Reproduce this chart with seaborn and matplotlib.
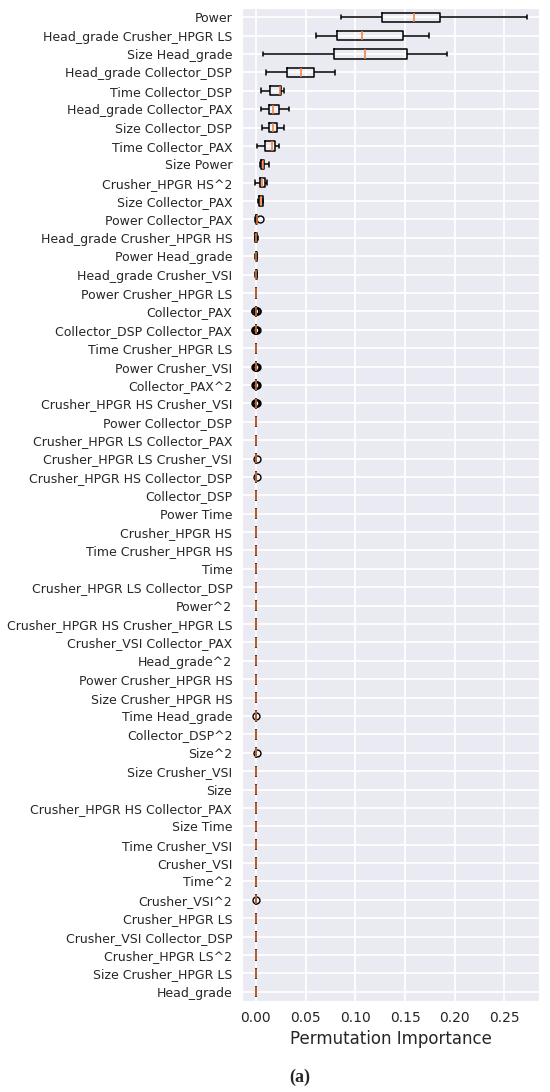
import pandas as pd
import matplotlib
matplotlib.use("Agg")
import matplotlib.pyplot as plt
import seaborn as sns

features = [
    "Power", "Head_grade Crusher_HPGR LS", "Size Head_grade", "Head_grade Collector_DSP",
    "Time Collector_DSP", "Head_grade Collector_PAX", "Size Collector_DSP", "Time Collector_PAX",
    "Size Power", "Crusher_HPGR HS^2", "Size Collector_PAX", "Power Collector_PAX",
    "Head_grade Crusher_HPGR HS", "Power Head_grade", "Head_grade Crusher_VSI",
    "Power Crusher_HPGR LS", "Collector_PAX", "Collector_DSP Collector_PAX",
    "Time Crusher_HPGR LS", "Power Crusher_VSI", "Collector_PAX^2",
    "Crusher_HPGR HS Crusher_VSI", "Power Collector_DSP", "Crusher_HPGR LS Collector_PAX",
    "Crusher_HPGR LS Crusher_VSI", "Crusher_HPGR HS Collector_DSP", "Collector_DSP",
    "Power Time", "Crusher_HPGR HS", "Time Crusher_HPGR HS", "Time",
    "Crusher_HPGR LS Collector_DSP", "Power^2", "Crusher_HPGR HS Crusher_HPGR LS",
    "Crusher_VSI Collector_PAX", "Head_grade^2", "Power Crusher_HPGR HS",
    "Size Crusher_HPGR HS", "Time Head_grade", "Collector_DSP^2", "Size^2",
    "Size Crusher_VSI", "Size", "Crusher_HPGR HS Collector_PAX", "Size Time",
    "Time Crusher_VSI", "Crusher_VSI", "Time^2", "Crusher_VSI^2", "Crusher_HPGR LS",
    "Crusher_VSI Collector_DSP", "Crusher_HPGR LS^2", "Size Crusher_HPGR LS", "Head_grade",
]

# whisker ends, quartiles and medians (first 19 features, rest ~0)
low = [0.0855, 0.0604, 0.0070, 0.0097, 0.0054, 0.0054, 0.0060, 0.0007, 0.0045, -0.0013,
       0.0023, -0.0008, -0.0010, -0.0008, -0.0005, 0.0, 0.0, 0.0, -0.0003]
q1 = [0.1264, 0.0811, 0.0788, 0.0315, 0.0144, 0.0134, 0.0134, 0.0087, 0.0048, 0.0037,
      0.0028, -0.0004, -0.0005, -0.0003, -0.0002, 0.0, 0.0, 0.0, -0.0001]
med = [0.1586, 0.1070, 0.1097, 0.0450, 0.0241, 0.0174, 0.0168, 0.0164, 0.0070, 0.0060,
       0.0052, 0.0002, 0.0003, 0.0002, 0.0002, 0.0, 0.0, 0.0, 0.0]
q3 = [0.1854, 0.1475, 0.1520, 0.0580, 0.0252, 0.0235, 0.0208, 0.0191, 0.0084, 0.0087,
      0.0068, 0.0010, 0.0010, 0.0008, 0.0006, 0.0001, 0.0, 0.0, 0.0001]
high = [0.2723, 0.1740, 0.1925, 0.0795, 0.0285, 0.0332, 0.0278, 0.0231, 0.0134, 0.0110,
        0.0074, 0.0012, 0.0020, 0.0015, 0.0010, 0.0002, 0.0, 0.0, 0.0003]

outliers = {
    "Power Collector_PAX": [0.0040],
    "Collector_PAX": [-0.0012, -0.0006, 0.0006, 0.0012],
    "Collector_DSP Collector_PAX": [-0.0012, -0.0005, 0.0005, 0.0012],
    "Power Crusher_VSI": [-0.0010, -0.0004, 0.0004, 0.0010],
    "Collector_PAX^2": [-0.0010, -0.0004, 0.0004, 0.0010],
    "Crusher_HPGR HS Crusher_VSI": [-0.0010, -0.0004, 0.0004, 0.0010],
    "Crusher_HPGR LS Crusher_VSI": [0.0008],
    "Crusher_HPGR HS Collector_DSP": [0.0008],
    "Time Head_grade": [0.0005],
    "Size^2": [0.0006],
    "Crusher_VSI^2": [0.0004],
}

records = []
for i, name in enumerate(features):
    if i < len(low):
        vals = [low[i], q1[i], med[i], q3[i], high[i]]
    else:
        vals = [0.0] * 5
    vals = vals + outliers.get(name, [])
    for v in vals:
        records.append({"feature": name, "importance": v})
df = pd.DataFrame(records)

sns.set_style("darkgrid", {"grid.linewidth": 1.3})
fig = plt.figure(figsize=(5.5, 10.92), dpi=100)
ax = fig.add_axes([242 / 550, 1 - 1001 / 1092, 297 / 550, 993 / 1092])

sns.boxplot(
    data=df, x="importance", y="feature", order=features, orient="h",
    fill=False, color="black", width=0.5, linewidth=1.1, whis=1.5, ax=ax,
    medianprops=dict(color="#f07c3a", linewidth=1.1),
    flierprops=dict(marker="o", markersize=5, markerfacecolor="none",
                    markeredgecolor="black", markeredgewidth=1),
)

ax.yaxis.grid(True, linewidth=1.3)
ax.xaxis.grid(True, linewidth=1.3)
ax.set_xlim(-0.014, 0.2847)
ax.set_ylabel("")
ax.set_xlabel("Permutation Importance", fontsize=12)
ax.tick_params(axis="y", labelsize=9, pad=3.5)
ax.tick_params(axis="x", labelsize=10)

fig.text(300 / 550, 1 - 1077 / 1092, "(a)", family="Liberation Serif",
         weight="bold", fontsize=13, ha="center", va="center")

fig.savefig("out.png", dpi=100)
